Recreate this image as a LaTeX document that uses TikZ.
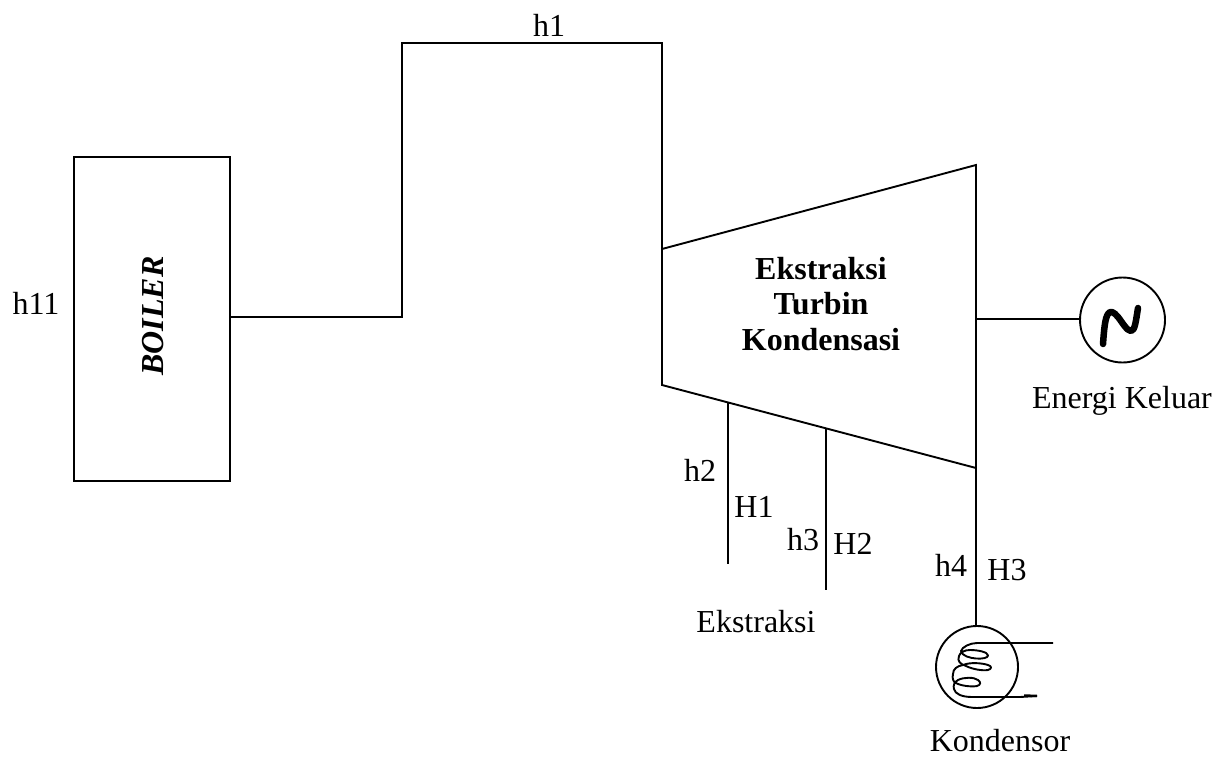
\documentclass[tikz,border=0pt]{standalone}
\usepackage{fontspec}
\setmainfont{Liberation Serif}
\begin{document}
\begin{tikzpicture}[x=1pt,y=-1pt,
  ln/.style={draw=black,line width=1.9pt},
  lbl/.style={font=\fontsize{32}{36}\selectfont,inner sep=0pt,text=black},
  blbl/.style={font=\fontsize{32}{35.5}\selectfont\bfseries,inner sep=0pt,align=center,text=black}]
\useasboundingbox (0,0) rectangle (1217,757);
\fill[white] (0,0) rectangle (1217,757);
\node[ln,minimum width=156pt,minimum height=324pt,inner sep=0pt,anchor=center] (boiler) at (152,319) {};
\node[lbl,rotate=90,font=\fontsize{32}{36}\selectfont\bfseries\itshape] (boilertxt) at (153,316) {BOILER};
\coordinate (t1) at (662,249);
\coordinate (t2) at (976,165);
\coordinate (t3) at (976,468);
\coordinate (t4) at (662,385);
\draw[ln,line join=miter] (t1) -- (t2) -- (t3) -- (t4) -- cycle;
\coordinate (b1) at (402,317);
\coordinate (b2) at (402,43);
\coordinate (b3) at (662,43);
\draw[ln] (boiler.east |- b1) -- (b1) -- (b2) -- (b3) -- (t1);
\node[ln,circle,minimum size=85pt,inner sep=0pt] (gen) at (1122.5,320) {};
\coordinate (g0) at (976,319);
\draw[ln] (g0) -- (gen.west |- g0);
\draw[black,line width=6.5pt,line cap=round,line join=round] (1103,344) .. controls (1104,330) and (1105,318) .. (1108,314) .. controls (1110,310) and (1114,312) .. (1118,317) .. controls (1122,322) and (1127,331) .. (1131,331) .. controls (1135,331) and (1136,320) .. (1138,308);
\coordinate (e1a) at (728,403);
\coordinate (e1b) at (728,564);
\coordinate (e2a) at (826,429);
\coordinate (e2b) at (826,590);
\draw[ln] (e1a) -- (e1b);
\draw[ln] (e2a) -- (e2b);
\node[ln,circle,minimum size=82pt,inner sep=0pt] (kond) at (977,667) {};
\draw[ln] (t3) -- (kond.north -| t3);
\coordinate (c1) at (1053,643);
\coordinate (c2) at (1037,696);
\draw[black,line width=1.9pt,line join=round]
  (c1) -- (977,643)
  .. controls (970,643) and (962,647) .. (961,651)
  .. controls (962,656) and (970,658) .. (976,658.5)
  .. controls (982,659) and (988,658) .. (988,655.5)
  .. controls (988,652) and (978,650) .. (970,650)
  .. controls (965,650) and (960,652) .. (959,656)
  .. controls (957,661) and (960,664) .. (966,666)
  .. controls (972,669) and (982,671) .. (988,670)
  .. controls (992,669) and (992,666) .. (988,665)
  .. controls (982,663) and (970,662) .. (963,665)
  .. controls (957,666) and (953,669) .. (953,674)
  .. controls (952,678) and (953,682) .. (956,683)
  .. controls (961,686) and (972,687) .. (977,686)
  .. controls (981,685) and (981,682) .. (978,680)
  .. controls (974,677) and (964,677) .. (958,680)
  .. controls (954,682) and (953,686) .. (954,689)
  .. controls (955,694) and (962,697) .. (972,697)
  -- (1020,697) -- (c2);
\draw[black,line width=2.5pt] (1024,695.5) -- (c2);
\node[lbl] (h1) at (549,25) {h1};
\node[lbl] (h11) at (36,303) {h11};
\node[blbl] (turb) at (821,304) {Ekstraksi\\Turbin\\Kondensasi};
\node[lbl] (ek) at (1122,401) {Energi Keluar};
\node[lbl] (h2) at (700,470) {h2};
\node[lbl] (H1) at (754,507) {H1};
\node[lbl] (h3) at (803,540) {h3};
\node[lbl] (H2) at (853,544) {H2};
\node[lbl] (h4) at (951,565) {h4};
\node[lbl] (H3) at (1007,570) {H3};
\node[lbl] (eks) at (756,622) {Ekstraksi};
\node[lbl] (kn) at (1000,741) {Kondensor};
\end{tikzpicture}
\end{document}
